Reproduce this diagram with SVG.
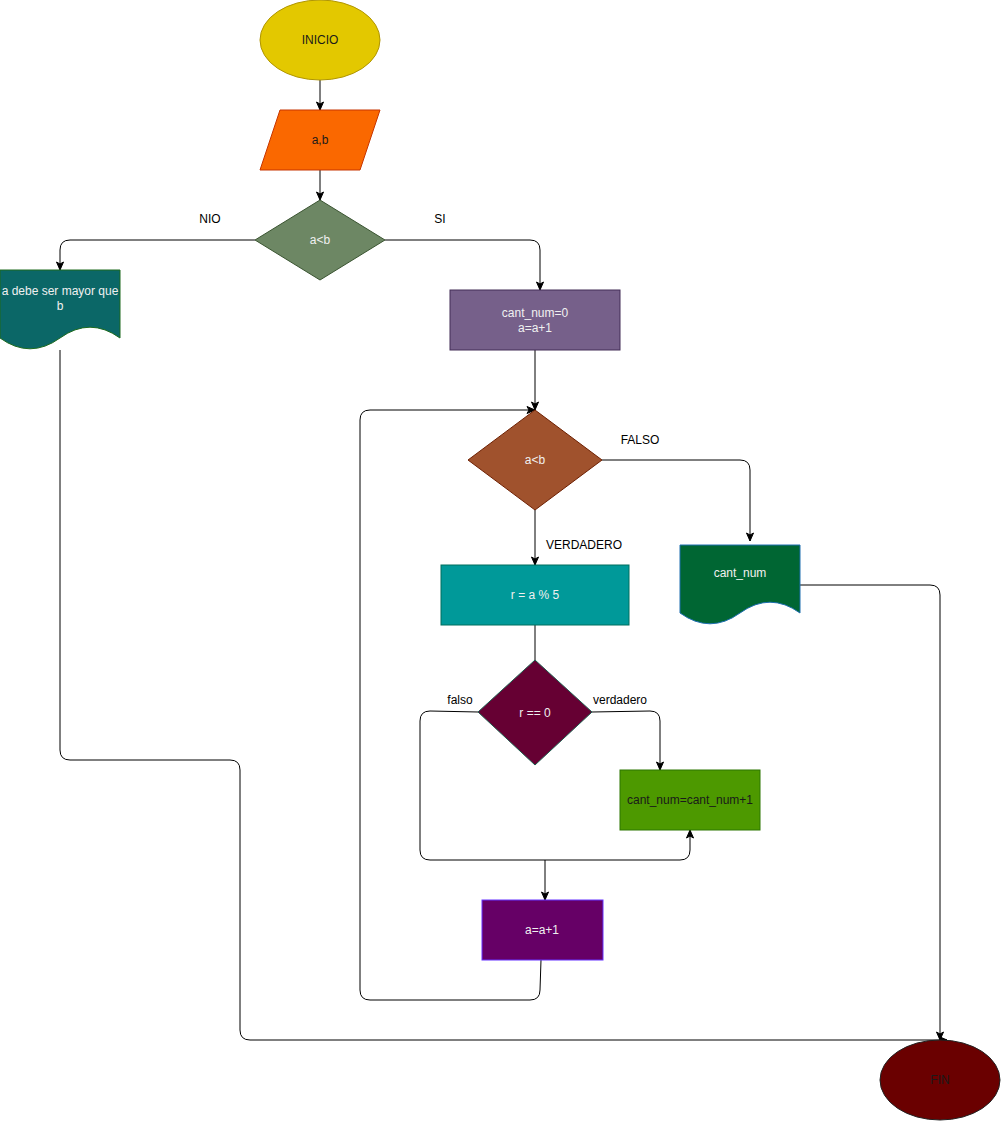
<svg xmlns="http://www.w3.org/2000/svg" width="1001" height="1121" viewBox="0 0 1001 1121">
<defs>
<marker id="arr" markerWidth="10" markerHeight="10" refX="9" refY="5" orient="auto" markerUnits="userSpaceOnUse">
<path d="M1,1.5 L9,5 L1,8.5 L3,5 Z" fill="#000" stroke="#000" stroke-width="1"/>
</marker>
</defs>
<style>
text{font-family:"Liberation Sans",Arial,sans-serif;font-size:12px;text-anchor:middle;dominant-baseline:central}
.lbl{fill:#000}
.w{fill:#f0f0f0}
.d{fill:#1a1a1a}
.e{fill:none;stroke:#000;stroke-width:1}
.ea{fill:none;stroke:#000;stroke-width:1;marker-end:url(#arr)}
</style>
<rect width="1001" height="1121" fill="#fff"/>
<g id="connectors">
<path class="ea" d="M320,80 L320,110"/>
<path class="ea" d="M320,170 L320,200"/>
<path class="ea" d="M255,240 L70,240 Q60,240 60,250 L60,270"/>
<path class="ea" d="M385,240 L530,240 Q540,240 540,250 L540,290"/>
<path class="ea" d="M535,350 L535,410"/>
<path class="ea" d="M602,460 L740,460 Q750,460 750,470 L750,541"/>
<path class="ea" d="M535,510 L535,565"/>
<path class="e" d="M535,625 L535,660"/>
<path class="ea" d="M592,712 L650,711 Q660,711 660,721 L660,770"/>
<path class="ea" d="M478,712 L430,711 Q420,711 420,721 L420,850 Q420,860 430,860 L680,860 Q690,860 690,850 L690,830"/>
<path class="ea" d="M545,860 L545,900"/>
<path class="ea" d="M541,960 L540,990 Q540,1000 530,1000 L370,1000 Q360,1000 360,990 L360,420 Q360,410 370,410 L535,410"/>
<path class="ea" d="M800,585 L930,585 Q940,585 940,595 L940,1040"/>
<path class="ea" d="M60,350 L60,750 Q60,760 70,760 L230,760 Q240,760 240,770 L240,1030 Q240,1040 250,1040 L947,1040"/>
<text class="lbl" x="210" y="219">NIO</text>
<text class="lbl" x="440" y="219">SI</text>
<text class="lbl" x="640" y="440">FALSO</text>
<text class="lbl" x="584" y="545">VERDADERO</text>
<text class="lbl" x="460" y="700">falso</text>
<text class="lbl" x="620" y="700">verdadero</text>
</g>
<g id="inicio">
<ellipse cx="320" cy="40" rx="60" ry="40" fill="#e3c800" stroke="#B09500"/>
<text class="d" x="320" y="40">INICIO</text>
</g>
<g id="input_ab">
<polygon points="280,110 380,110 360,170 260,170" fill="#fa6800" stroke="#C73500"/>
<text class="d" x="320" y="140">a,b</text>
</g>
<g id="cond1">
<polygon points="320,200 385,240 320,280 255,240" fill="#6d8764" stroke="#3A5431"/>
<text class="w" x="320" y="240">a&lt;b</text>
</g>
<g id="msg_error">
<path d="M0,270 L120,270 L120,338 Q90,316.4 60,338 Q30,359.6 0,338 Z" fill="#0b6767" stroke="#1e6b1e"/>
<text class="w" x="60" y="291">a debe ser mayor que</text>
<text class="w" x="60" y="306">b</text>
</g>
<g id="init">
<rect x="450" y="290" width="170" height="60" fill="#76608a" stroke="#432D57"/>
<text class="w" x="535" y="313">cant_num=0</text>
<text class="w" x="535" y="328">a=a+1</text>
</g>
<g id="cond2">
<polygon points="535,410 602,460 535,510 468,460" fill="#a0522d" stroke="#6D1F00"/>
<text class="w" x="535" y="460">a&lt;b</text>
</g>
<g id="out_cant">
<path d="M680,545 L800,545 L800,613 Q770,591.4 740,613 Q710,634.6 680,613 Z" fill="#006633" stroke="#1f6fb0"/>
<text class="w" x="740" y="573">cant_num</text>
</g>
<g id="mod">
<rect x="441" y="565" width="188" height="60" fill="#009999" stroke="#006e5e"/>
<text class="w" x="535" y="595">r = a % 5</text>
</g>
<g id="cond3">
<polygon points="535,660 592,712 535,765 478,712" fill="#660033" stroke="#1e5e4f"/>
<text class="w" x="535" y="713">r == 0</text>
</g>
<g id="inc_cant">
<rect x="620" y="770" width="140" height="60" fill="#4d9900" stroke="#2D7600"/>
<text class="d" x="690" y="800">cant_num=cant_num+1</text>
</g>
<g id="inc_a">
<rect x="482" y="900" width="121" height="60" fill="#660066" stroke="#6633ff"/>
<text class="w" x="542" y="930">a=a+1</text>
</g>
<g id="fin">
<ellipse cx="940" cy="1080" rx="60" ry="40" fill="#6a0000" stroke="#222"/>
<text class="d" x="940" y="1080">FIN</text>
</g>
</svg>
